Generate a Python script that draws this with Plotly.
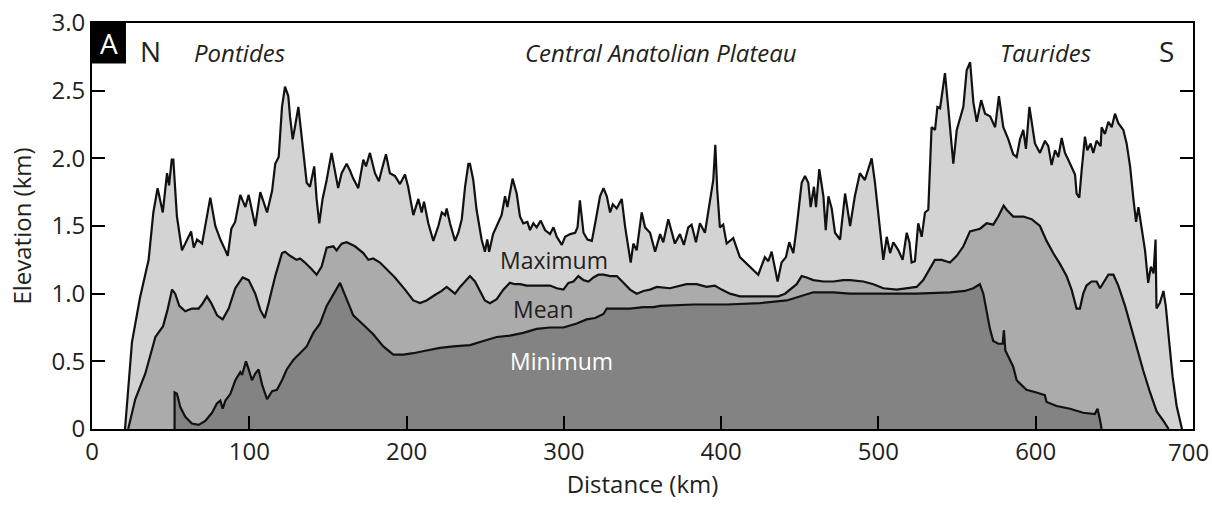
import plotly.graph_objects as go

# ---------------- data (km, km) ----------------
max_x = [21, 25.4, 30.5, 36, 39, 41.7, 45, 47.7, 49, 50.7, 51.7, 54, 57.2, 60.4, 63, 64.7, 66.8, 70, 73, 75.2,
         78.4, 81.6, 84.8, 86.3, 88.6, 91, 94.3, 97.5, 99.6, 103.8, 107, 111.3, 114.5, 116.5, 118.7, 120.8,
         122.7, 124.8, 125.9, 127.6, 129, 131.2, 133.3, 136.5, 138.6, 141.3, 142.8, 144.5, 146.6, 149.2, 152.3,
         154.4, 156.5, 158.7, 161.9, 164, 166.1, 169.3, 172.5, 174.2, 176.7, 179.9, 182.4, 184.1, 186.9, 189.4,
         192.6, 195.8, 199, 201, 204.3, 207.5, 209.6, 211.1, 213.8, 217, 220.2, 222.4, 224.5, 225.5, 227.6,
         230.8, 232.9, 235.1, 237.2, 239.3, 240.3, 242.4, 244.5, 247.7, 249.8, 251.3, 252.5, 255, 260.4, 262.6,
         264.1, 267.4, 270, 272.1, 274.2, 276.8, 278.5, 280.6, 282.7, 285.3, 288, 291.2, 293.4, 295.5, 298.7,
         300.8, 304, 307.2, 308.7, 310.2, 312.5, 315, 317.8, 319.9, 323, 325.2, 327.3, 329.4, 331.1, 333.6,
         336.8, 339, 341.1, 342.5, 344.2, 346.3, 349.5, 351.6, 354.8, 358, 361.2, 363.2, 366.4, 370.6, 373.8,
         376.3, 379.1, 381.2, 384, 386.5, 389.7, 392.9, 395, 396.3, 397.5, 399.2, 401.3, 403.5, 407.7, 411.9,
         417.2, 423.6, 427.8, 430, 432.1, 434.2, 435.9, 438.4, 441.2, 443.3, 445.9, 448, 451.2, 453.3, 455.4,
         456.9, 459, 460.3, 462.4, 465, 466.5, 468.2, 470.3, 472.4, 475.6, 478.8, 482, 485, 488.2, 491.4, 493.6,
         495.7, 497.8, 501, 503.1, 505.3, 507.4, 509.5, 512.7, 515.4, 518, 519.7, 521.1, 523.2, 525.3, 527.5,
         529.6, 531.7, 533.8, 536, 537.5, 539.2, 542.3, 544.5, 547.6, 549.8, 554, 556.1, 558.3, 560.4, 562.5,
         565.3, 567.8, 571, 574.2, 576.6, 579.4, 582.6, 585.7, 587.9, 590, 592.1, 593.8, 596, 599.5, 602.7,
         605.9, 608, 610.1, 612.3, 614.4, 616.5, 618.6, 620.7, 622.8, 625, 626, 627.7, 629.2, 631.3, 632.8,
         634.9, 636.6, 638.7, 641.3, 641.9, 644, 646.2, 648.3, 650.4, 652.5, 655.7, 657.8, 660, 662.1, 663.8,
         665.3, 667.4, 669.5, 671.5, 673.2, 674.9, 676.2, 676.8, 678.9, 681.2, 682.7, 684.9, 687, 689.6, 692.1,
         693]
max_y = [0, 0.64, 0.97, 1.25, 1.60, 1.78, 1.60, 1.89, 1.80, 1.99, 1.99, 1.57, 1.32, 1.40, 1.46, 1.34, 1.40, 1.37,
         1.55, 1.71, 1.50, 1.40, 1.32, 1.28, 1.48, 1.53, 1.73, 1.64, 1.73, 1.50, 1.75, 1.60, 1.76, 1.96, 2.01,
         2.38, 2.53, 2.46, 2.31, 2.14, 2.23, 2.38, 2.16, 1.82, 1.79, 1.94, 1.70, 1.52, 1.70, 1.84, 2.04, 1.92,
         1.78, 1.89, 1.96, 1.91, 1.85, 1.78, 1.99, 1.94, 2.04, 1.89, 1.83, 1.91, 2.03, 1.89, 1.87, 1.81, 1.88,
         1.79, 1.58, 1.70, 1.60, 1.68, 1.52, 1.39, 1.50, 1.60, 1.58, 1.63, 1.52, 1.39, 1.45, 1.55, 1.79, 1.96,
         1.96, 1.84, 1.62, 1.40, 1.31, 1.40, 1.31, 1.44, 1.58, 1.72, 1.64, 1.85, 1.74, 1.57, 1.52, 1.53, 1.47,
         1.52, 1.49, 1.54, 1.47, 1.44, 1.49, 1.42, 1.36, 1.42, 1.44, 1.45, 1.49, 1.69, 1.45, 1.40, 1.39, 1.52,
         1.72, 1.78, 1.72, 1.60, 1.66, 1.63, 1.70, 1.49, 1.31, 1.23, 1.37, 1.32, 1.60, 1.49, 1.45, 1.31, 1.44,
         1.38, 1.55, 1.37, 1.44, 1.36, 1.49, 1.51, 1.38, 1.52, 1.45, 1.69, 1.84, 2.10, 1.77, 1.49, 1.51, 1.37,
         1.41, 1.27, 1.21, 1.14, 1.27, 1.24, 1.31, 1.18, 1.09, 1.23, 1.27, 1.38, 1.30, 1.49, 1.82, 1.87, 1.82,
         1.64, 1.79, 1.64, 1.92, 1.72, 1.47, 1.72, 1.63, 1.45, 1.40, 1.74, 1.50, 1.72, 1.89, 1.84, 1.92, 2.00,
         1.82, 1.49, 1.25, 1.42, 1.30, 1.38, 1.32, 1.25, 1.45, 1.38, 1.23, 1.24, 1.52, 1.42, 1.60, 1.62, 2.23,
         2.21, 2.38, 2.37, 2.63, 2.36, 1.96, 2.21, 2.38, 2.65, 2.71, 2.41, 2.27, 2.43, 2.33, 2.31, 2.23, 2.46,
         2.23, 2.14, 2.03, 2.01, 2.14, 2.21, 2.07, 2.38, 2.11, 2.04, 2.13, 2.09, 1.95, 2.06, 2.01, 2.15, 2.04,
         1.99, 1.94, 1.88, 1.74, 1.71, 1.91, 2.16, 2.06, 2.11, 2.04, 2.13, 2.09, 2.23, 2.18, 2.27, 2.23, 2.33,
         2.26, 2.21, 2.11, 1.94, 1.70, 1.53, 1.64, 1.49, 1.32, 1.08, 1.20, 1.15, 1.40, 0.89, 0.93, 1.02, 0.91,
         0.64, 0.39, 0.17, 0.03, 0]

mean_x = [23, 27.5, 33.9, 40.3, 45.2, 48, 50.9, 52.9, 55.5, 59.3, 63.5, 67.8, 69.9, 73.1, 75.8, 79.5, 83.1,
          86.9, 91.1, 95.8, 99.6, 103.8, 107, 109.8, 112.3, 116.5, 120.8, 122.7, 125.9, 130.1, 132.3, 135.4,
          139.7, 142.8, 146, 149.2, 153.4, 155.5, 158.7, 161.9, 167.2, 172.5, 175.7, 178.8, 183.1, 187.3, 192.6,
          199, 204.3, 208.5, 212.7, 218, 222.3, 225.5, 227.6, 230.8, 234, 237.2, 240.3, 243.5, 246.7, 249.8,
          253, 257.3, 261.5, 265.7, 268.9, 272.1, 276.4, 282.7, 291.2, 295.5, 299.7, 302.9, 306.1, 309.2,
          312.5, 315.7, 318.8, 322, 325.2, 329.4, 333.7, 337.9, 342.1, 346.3, 350.6, 354.8, 359.1, 367.4,
          373.8, 378, 384.4, 390.8, 396, 400.3, 405.6, 411.9, 420.4, 428.9, 436.3, 440.6, 444.8, 448, 451.2,
          454.4, 458.6, 465, 471.4, 477.7, 482, 490.4, 496.8, 503.1, 511.6, 518, 524.3, 528.5, 532.7, 535.9,
          540.2, 545.5, 549.8, 554, 558.2, 564.6, 568.8, 573, 576.2, 579.6, 581.5, 585.7, 592.1, 597.4, 602.7,
          606.9, 611.1, 615.4, 619.6, 622.8, 626, 628.1, 630.2, 632.3, 635.5, 638.7, 640.9, 643, 646.2, 649.4,
          652.5, 656.8, 659.9, 664.2, 668.4, 672.7, 676.9, 681.2, 684.5]
mean_y = [0, 0.22, 0.41, 0.68, 0.76, 0.88, 1.03, 1.00, 0.91, 0.87, 0.89, 0.89, 0.92, 0.98, 0.93, 0.84, 0.81,
          0.89, 1.04, 1.12, 1.10, 1.00, 0.88, 0.82, 0.93, 1.13, 1.30, 1.31, 1.28, 1.25, 1.26, 1.23, 1.18, 1.14,
          1.20, 1.34, 1.35, 1.32, 1.37, 1.38, 1.35, 1.30, 1.25, 1.26, 1.23, 1.18, 1.12, 1.03, 0.95, 0.93, 0.95,
          0.99, 1.02, 1.05, 1.03, 1.00, 1.05, 1.09, 1.13, 1.09, 1.02, 0.95, 0.93, 0.96, 1.03, 1.08, 1.07, 1.07,
          1.06, 1.06, 1.06, 1.04, 1.03, 1.08, 1.09, 1.13, 1.10, 1.09, 1.12, 1.14, 1.14, 1.13, 1.13, 1.08, 1.03,
          1.00, 1.02, 1.03, 1.05, 1.04, 1.06, 1.07, 1.07, 1.05, 1.06, 1.03, 1.00, 0.98, 0.98, 0.98, 0.98, 1.00,
          1.04, 1.07, 1.13, 1.12, 1.10, 1.09, 1.09, 1.10, 1.10, 1.09, 1.07, 1.04, 1.03, 1.04, 1.05, 1.10, 1.19,
          1.25, 1.25, 1.23, 1.28, 1.35, 1.46, 1.48, 1.52, 1.51, 1.57, 1.65, 1.62, 1.57, 1.57, 1.55, 1.50, 1.39,
          1.30, 1.22, 1.13, 1.03, 0.89, 0.89, 1.00, 1.06, 1.09, 1.09, 1.04, 1.08, 1.14, 1.14, 1.06, 0.91, 0.78,
          0.61, 0.43, 0.27, 0.13, 0.06, 0]

min_x = [52.5, 52.5, 54, 56.2, 59.3, 63.5, 67.8, 72, 76.3, 79.5, 81.6, 83.1, 84.8, 88, 91.1, 94.3, 95.4, 97.9,
         99.6, 101.7, 103.8, 105.9, 108.1, 111.3, 114.5, 117.6, 120.8, 123.8, 128, 132.3, 136.5, 140.7, 145,
         149.2, 153.4, 157.7, 161.9, 166.1, 172.5, 178.8, 185.2, 191.6, 198, 204.3, 212.7, 221.2, 229.7, 240.3,
         248.8, 257.3, 265.7, 274.2, 282.7, 291.2, 299.7, 308.2, 314.5, 319.9, 325.2, 327.3, 333.7, 342.1,
         350.6, 357, 361.2, 382.3, 403.5, 424.7, 441.7, 450.1, 458.6, 471.4, 481.9, 503.1, 524.3, 545.5, 555,
         560.3, 564.5, 566.7, 568.8, 570.9, 573, 576.2, 579, 579.8, 580.7, 583.6, 585.7, 587.9, 594.1, 600.5,
         605.8, 606.9, 613.3, 621.8, 630.2, 637.6, 639.3, 640.8, 641.9]
min_y = [0, 0.27, 0.26, 0.16, 0.09, 0.04, 0.03, 0.06, 0.12, 0.19, 0.21, 0.15, 0.21, 0.26, 0.36, 0.42, 0.40, 0.50,
         0.44, 0.36, 0.41, 0.44, 0.33, 0.22, 0.28, 0.29, 0.36, 0.44, 0.51, 0.56, 0.61, 0.71, 0.78, 0.91, 0.99,
         1.08, 0.96, 0.84, 0.77, 0.70, 0.61, 0.55, 0.55, 0.56, 0.58, 0.60, 0.61, 0.62, 0.65, 0.68, 0.69, 0.71,
         0.74, 0.75, 0.75, 0.78, 0.81, 0.82, 0.85, 0.89, 0.89, 0.89, 0.90, 0.90, 0.91, 0.92, 0.92, 0.93, 0.95,
         0.98, 1.01, 1.01, 1.00, 1.00, 1.00, 1.01, 1.02, 1.04, 1.07, 1.00, 0.86, 0.74, 0.65, 0.63, 0.63, 0.73,
         0.58, 0.51, 0.46, 0.36, 0.29, 0.27, 0.25, 0.20, 0.17, 0.15, 0.12, 0.11, 0.15, 0.07, 0]

x_ticks = [0, 100, 200, 300, 400, 500, 600, 700]
x_tick_text = ["0", "100", "200", "300", "400", "500", "600", "700"]
y_ticks = [0, 0.5, 1.0, 1.5, 2.0, 2.5, 3.0]
y_tick_text = ["0", "0.5", "1.0", "1.5", "2.0", "2.5", "3.0"]

FONT = "Open Sans"
TXT = "#231f20"

fig = go.Figure()
for xs, ys, fillc, nm in [(max_x, max_y, "#d3d3d3", "Maximum"),
                          (mean_x, mean_y, "#ababab", "Mean"),
                          (min_x, min_y, "#838383", "Minimum")]:
    fig.add_trace(go.Scatter(x=xs, y=ys, mode="lines", fill="tozeroy", fillcolor=fillc,
                             line=dict(color="#111111", width=2.2), name=nm, showlegend=False,
                             hoverinfo="skip"))

ann_common = dict(showarrow=False, xref="x", yref="y", font=dict(family=FONT, size=23, color=TXT))
fig.add_annotation(x=294, y=1.25, text="Maximum", **ann_common)
fig.add_annotation(x=287, y=0.89, text="Mean", **ann_common)
fig.add_annotation(x=298.5, y=0.50, text="Minimum", showarrow=False, xref="x", yref="y",
                   font=dict(family=FONT, size=23, color="white"))

top_font = dict(family=FONT, size=24, color=TXT)
fig.add_annotation(x=37.4, y=2.79, text="N", showarrow=False, font=dict(family=FONT, size=28, color=TXT))
fig.add_annotation(x=94, y=2.78, text="<i>Pontides</i>", showarrow=False, font=top_font)
fig.add_annotation(x=362, y=2.78, text="<i>Central Anatolian Plateau</i>", showarrow=False, font=top_font)
fig.add_annotation(x=606, y=2.78, text="<i>Taurides</i>", showarrow=False, font=top_font)
fig.add_annotation(x=683, y=2.79, text="S", showarrow=False, font=dict(family=FONT, size=28, color=TXT))

# panel letter box
fig.add_shape(type="rect", xref="x", yref="y", x0=0, x1=21.6, y0=2.70, y1=3.0,
              fillcolor="black", line=dict(width=0), layer="above")
fig.add_annotation(x=10.8, y=2.85, text="A", showarrow=False,
                   font=dict(family=FONT, size=28, color="white"))

# last x tick label drawn as text that stays inside the page (right-aligned at the edge)
fig.add_annotation(x=x_ticks[-1], xref="x", y=0, yref="paper", text=x_tick_text[-1],
                   xanchor="right", yanchor="top", xshift=18, yshift=-4, showarrow=False,
                   font=dict(family=FONT, size=24, color=TXT))

fig.update_layout(
    width=1212, height=505,
    margin=dict(l=92, r=19, t=23, b=76, autoexpand=False),
    plot_bgcolor="white", paper_bgcolor="white",
    font=dict(family=FONT, color=TXT),
)
fig.update_xaxes(range=[0, 700], tickvals=x_ticks, ticktext=x_tick_text[:-1] + [""],
                 ticks="inside", ticklen=13, tickwidth=2,
                 tickcolor="black", showline=True, linewidth=2, linecolor="black", mirror=True,
                 showgrid=False, zeroline=False, tickfont=dict(family=FONT, size=24, color=TXT),
                 automargin=False,
                 title=dict(text="Distance (km)", font=dict(family=FONT, size=24, color=TXT), standoff=4))
fig.update_yaxes(range=[0, 3.0], tickvals=y_ticks, ticktext=y_tick_text, ticks="inside", ticklen=13,
                 tickwidth=2, tickcolor="black", showline=True, linewidth=2, linecolor="black",
                 mirror="ticks", showgrid=False, zeroline=False, automargin=False,
                 tickfont=dict(family=FONT, size=24, color=TXT),
                 title=dict(text="Elevation (km)", font=dict(family=FONT, size=24, color=TXT), standoff=13))

fig.write_html("out.html", config={"displayModeBar": False},
               post_script="document.body.style.margin='0';")
